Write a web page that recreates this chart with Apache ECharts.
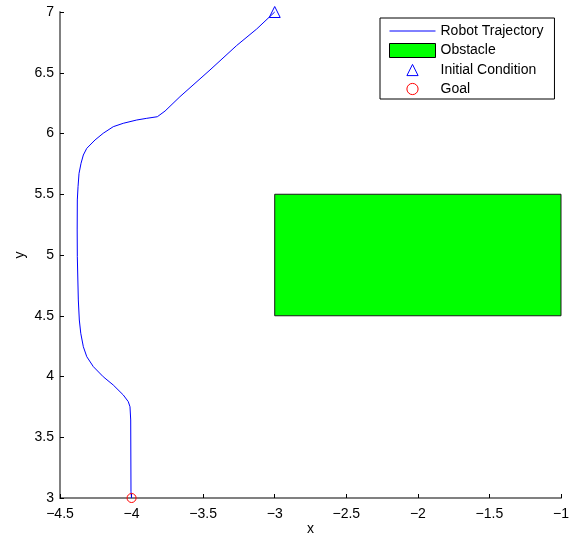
<!DOCTYPE html>
<html>
<head>
<meta charset="utf-8">
<script src="https://cdn.jsdelivr.net/npm/echarts@6/dist/echarts.min.js"></script>
<style>html,body{margin:0;padding:0;background:#fff;}#c{width:574px;height:538px;}</style>
</head>
<body>
<div id="c"></div>
<script>
// ---- data ----
const trajX = [-3.0, -3.126, -3.266, -3.452, -3.662, -3.766, -3.820, -3.894, -3.964, -4.058, -4.128, -4.198, -4.255, -4.313, -4.337, -4.353, -4.367, -4.374, -4.379, -4.380, -4.379, -4.372, -4.365, -4.355, -4.337, -4.313, -4.267, -4.198, -4.128, -4.058, -4.023, -4.011, -4.006, -4.004, -4.0];
const trajY = [7.0, 6.86, 6.724, 6.523, 6.303, 6.185, 6.138, 6.125, 6.111, 6.084, 6.056, 6.002, 5.947, 5.878, 5.823, 5.755, 5.672, 5.562, 5.453, 5.206, 4.986, 4.630, 4.465, 4.356, 4.245, 4.163, 4.081, 3.998, 3.930, 3.848, 3.793, 3.751, 3.642, 3.052, 3.0];
const obstacleX = [-3, -1];
const obstacleY = [4.5, 5.5];
const initialPoint = [-3, 7];
const goalPoint = [-4, 3];
const xTicks = {min: -4.5, max: -1, interval: 0.5};
const yTicks = {min: 3, max: 7, interval: 0.5};

const FONT = 'Liberation Sans, Arial, Helvetica, sans-serif';
const fmt = v => String(v).replace('-', '\u2212');

const chart = echarts.init(document.getElementById('c'), null, {renderer: 'canvas'});
chart.setOption({
  animation: false,
  backgroundColor: '#fff',
  grid: {left: 60, right: 13, top: 12, bottom: 40, containLabel: false, outerBoundsMode: 'none'},
  xAxis: {
    type: 'value', min: xTicks.min, max: xTicks.max, interval: xTicks.interval,
    name: 'x', nameLocation: 'middle', nameGap: 24, nameMoveOverlap: false,
    nameTextStyle: {fontFamily: FONT, fontSize: 14, color: '#000'},
    axisLine: {show: true, onZero: false, lineStyle: {color: '#808080', width: 2}},
    axisTick: {show: true, inside: true, length: 4, lineStyle: {color: '#000', width: 1}},
    axisLabel: {formatter: fmt, fontFamily: FONT, fontSize: 14, color: '#000', margin: 9},
    splitLine: {show: false}
  },
  yAxis: {
    type: 'value', min: yTicks.min, max: yTicks.max, interval: yTicks.interval,
    name: 'y', nameLocation: 'middle', nameGap: 33, nameMoveOverlap: false,
    nameTextStyle: {fontFamily: FONT, fontSize: 14, color: '#000'},
    axisLine: {show: true, onZero: false, lineStyle: {color: '#808080', width: 2}},
    axisTick: {show: true, inside: true, length: 4, lineStyle: {color: '#000', width: 1}},
    axisLabel: {formatter: fmt, fontFamily: FONT, fontSize: 14, color: '#000', margin: 6},
    splitLine: {show: false}
  },
  legend: {
    orient: 'vertical', left: 380, top: 18,
    padding: [6, 11, 3, 9], itemGap: 5, itemWidth: 46, itemHeight: 14,
    backgroundColor: '#fff', borderColor: '#000', borderWidth: 1, borderRadius: 0,
    selectedMode: false,
    textStyle: {fontFamily: FONT, fontSize: 14, color: '#000'},
    data: [
      {name: 'Robot Trajectory', itemStyle: {opacity: 0}, lineStyle: {width: 1, color: '#0000ff'}},
      {name: 'Obstacle', icon: 'rect', itemStyle: {color: '#00ff00', borderColor: '#000', borderWidth: 1}},
      {name: 'Initial Condition', lineStyle: {opacity: 0}, itemStyle: {color: 'transparent', borderColor: '#0000ff', borderWidth: 1}},
      {name: 'Goal', lineStyle: {opacity: 0}, itemStyle: {color: 'transparent', borderColor: '#ff0000', borderWidth: 1}}
    ]
  },
  series: [
    {
      name: 'Robot Trajectory', type: 'line',
      data: trajX.map((x, i) => [x, trajY[i]]),
      symbol: 'none', smooth: false,
      lineStyle: {color: '#0000ff', width: 1},
      itemStyle: {color: '#0000ff'},
      clip: false, z: 3
    },
    {
      name: 'Obstacle', type: 'custom',
      data: [[obstacleX[0], obstacleY[0], obstacleX[1], obstacleY[1]]],
      itemStyle: {color: '#00ff00', borderColor: '#000', borderWidth: 1},
      renderItem: (params, api) => {
        const p0 = api.coord([api.value(0), api.value(3)]);
        const p1 = api.coord([api.value(2), api.value(1)]);
        return {
          type: 'rect',
          shape: {x: p0[0], y: p0[1], width: p1[0] - p0[0], height: p1[1] - p0[1]},
          style: {fill: '#00ff00', stroke: '#1a1a1a', lineWidth: 1}
        };
      },
      z: 2
    },
    {
      name: 'Initial Condition', type: 'line',
      data: [initialPoint],
      symbol: 'triangle', symbolSize: 11, showSymbol: true,
      itemStyle: {color: 'transparent', borderColor: '#0000ff', borderWidth: 1},
      lineStyle: {width: 0, opacity: 0},
      clip: false, z: 4
    },
    {
      name: 'Goal', type: 'line',
      data: [goalPoint],
      symbol: 'circle', symbolSize: 9, showSymbol: true,
      itemStyle: {color: 'transparent', borderColor: '#ff0000', borderWidth: 1},
      lineStyle: {width: 0, opacity: 0},
      clip: false, z: 4
    }
  ]
});
</script>
</body>
</html>
